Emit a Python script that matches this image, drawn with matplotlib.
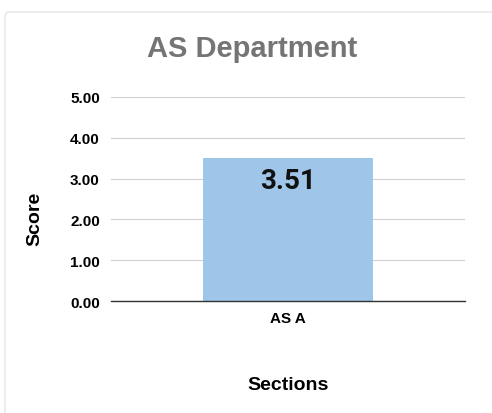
import matplotlib.pyplot as plt
from matplotlib.patches import FancyBboxPatch

sections = ['AS A']
scores = [3.51]
yticks = [0, 1, 2, 3, 4, 5]

plt.rcParams['font.family'] = ['Liberation Sans', 'DejaVu Sans']

fig = plt.figure(figsize=(4.92, 4.14), dpi=100)

# faint card border
border = FancyBboxPatch((5 / 492, -0.1), 1.2, 1 - 13 / 414 + 0.1,
                        boxstyle='round,pad=0,rounding_size=0.01',
                        transform=fig.transFigure, fill=False,
                        edgecolor='#e6e6e6', linewidth=1)
fig.patches.append(border)

ax = fig.add_axes([111 / 492, 1 - 302 / 414, 354 / 492, 204 / 414])

x = range(len(sections))
bars = ax.bar(x, scores, width=0.48, color='#9fc5e8', zorder=3)
for b, v in zip(bars, scores):
    ax.text(b.get_x() + b.get_width() / 2, v - 0.22, f'{v:.2f}',
            ha='center', va='top', fontsize=20, fontweight='bold',
            family=['Roboto', 'DejaVu Sans'], color='#111111', zorder=4)

ax.set_xlim(-0.5, 0.5)
ax.set_ylim(0, 5)
ax.set_xticks(list(x))
ax.set_xticklabels(sections, fontsize=11, fontweight='bold')
ax.set_yticks(yticks)
ax.set_yticklabels([f'{t:.2f}' for t in yticks], fontsize=11, fontweight='bold')
ax.tick_params(axis='x', length=0, pad=7)
ax.tick_params(axis='y', length=0, pad=8)

ax.grid(axis='y', color='#d0d0d0', linewidth=0.8, zorder=0)
for s in ['top', 'right', 'left']:
    ax.spines[s].set_visible(False)
ax.spines['bottom'].set_color('#333333')
ax.spines['bottom'].set_linewidth(1)
ax.spines['bottom'].set_zorder(5)

# axis titles placed like the original card layout
fig.text(288 / 492, 1 - 386 / 414, 'Sections', ha='center', va='center',
         fontsize=14, fontweight='bold')
fig.text(35 / 492, 1 - 219 / 414, 'Score', ha='center', va='center',
         rotation=90, fontsize=14, fontweight='bold')

fig.text(252 / 492, 1 - 49 / 414, 'AS Department', ha='center', va='center',
         fontsize=21, fontweight='bold', color='#757575')

fig.savefig('out.png', dpi=100)
